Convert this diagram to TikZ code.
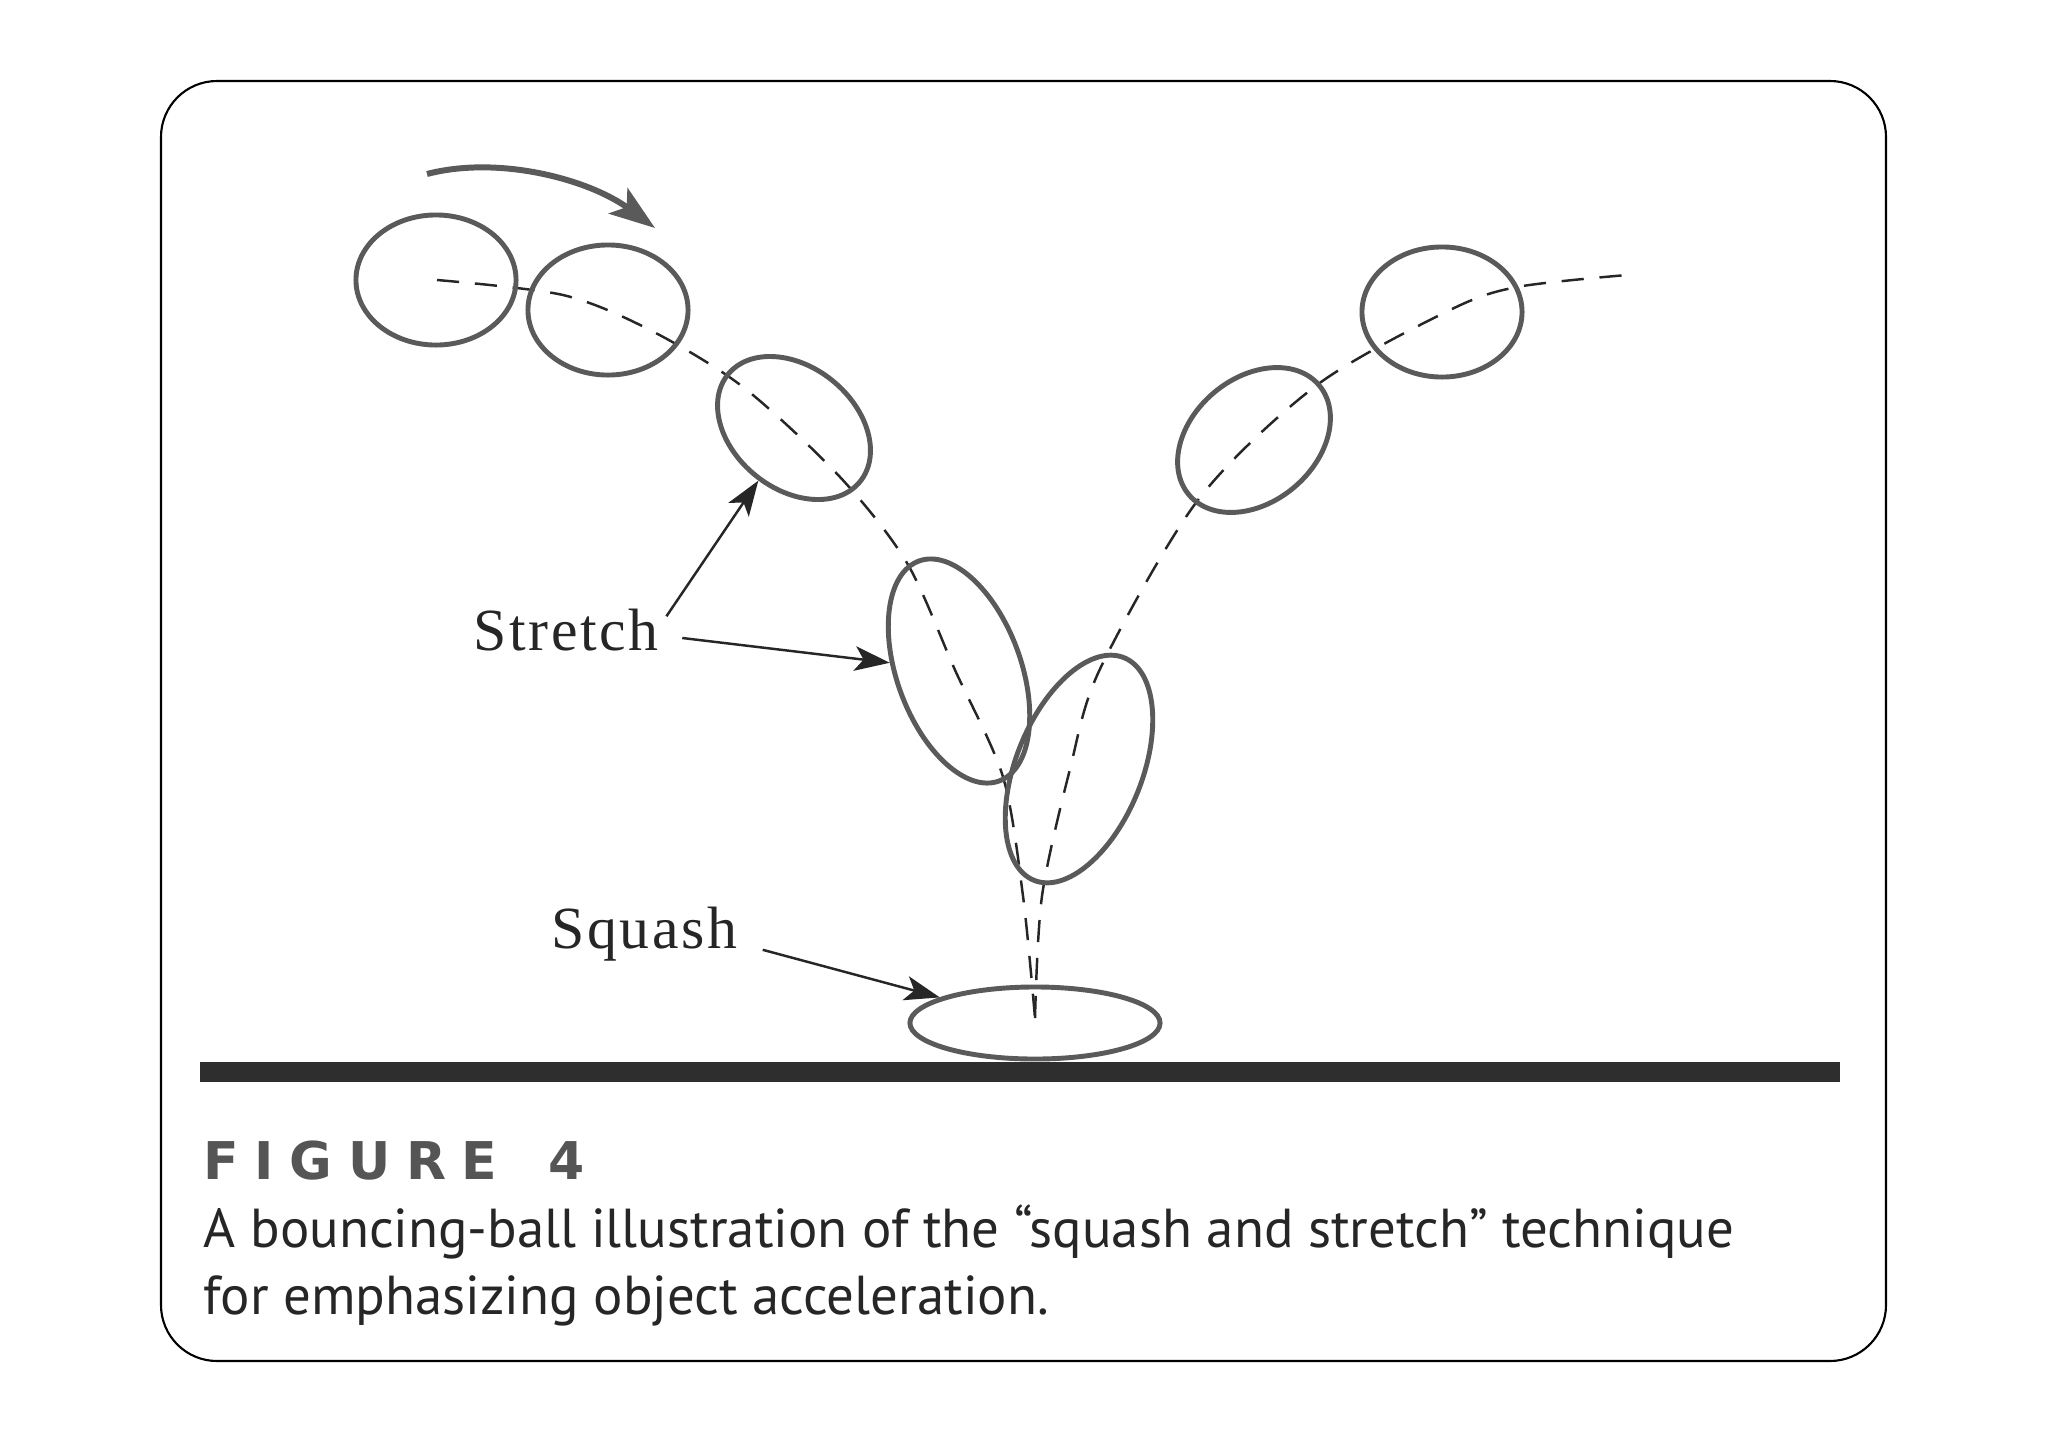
\documentclass[tikz,border=0pt]{standalone}
\usepackage{fontspec}
\setmainfont{Liberation Serif}
\newfontfamily\capfont{PT Sans}
\newfontfamily\figfont{DejaVu Sans}[LetterSpace=30]
\usetikzlibrary{arrows.meta,shapes.geometric}
\definecolor{ballgray}{HTML}{5A5A5A}
\definecolor{inkgray}{HTML}{262626}
\definecolor{figgray}{HTML}{555555}
\definecolor{suelo}{HTML}{2E2E2E}

\begin{document}
\begin{tikzpicture}[x=0.01cm, y=-0.01cm,
    ball/.style={draw=ballgray, line width=1.4pt, ellipse, inner sep=0pt},
    pointer/.style={draw=inkgray, line width=0.7pt, -{Stealth[length=10pt, width=7pt, inset=2.5pt]}},
    spin/.style={draw=ballgray, line width=1.7pt, -{Stealth[length=13pt, width=9pt, inset=3pt]}},
    trayecto/.style={draw=inkgray, line width=0.7pt, dash pattern=on 6.3pt off 4.5pt},
    rotulo/.style={font=\fontsize{17pt}{20pt}\selectfont\addfontfeature{LetterSpace=4.5}, text=inkgray, inner sep=1pt},
    pie/.style={anchor=base west, inner sep=0pt, text=inkgray, font=\capfont\fontsize{15.6pt}{19pt}\selectfont}]
    \fill[white] (0,0) rectangle (2048,1448);
    \useasboundingbox (0,0) rectangle (2048,1448);
    % Marco redondeado.
    \draw[line width=0.6pt, rounded corners=0.56cm] (161,81) rectangle (1886,1361);

    % Trayectoria de la pelota (bajada y subida).
    \draw[trayecto] plot[smooth, tension=0.5] coordinates {(437,280) (563,295) (650,330) (743,387) (840,477)
        (907,563) (955,670) (1003,777) (1023,896) (1035,1018)};
    \draw[trayecto] plot[smooth, tension=0.5] coordinates {(1035,1018) (1042,896) (1070,769) (1100,669)
        (1198,500) (1317,385) (1450,310) (1517,287) (1627,275)};

    % Posiciones de la pelota: nombre/x/y/ancho/alto/giro.
    \foreach \nombre/\cx/\cy/\ancho/\alto/\giro in {b1/436/280/1.60/1.30/0, b2/608/310/1.60/1.30/0,
        b3/794/428/1.70/1.22/-39, b4/959/671/2.34/1.24/-70, b5/1079/769/2.40/1.26/68,
        b6/1254/440/1.70/1.24/40, b7/1442/312/1.60/1.30/0, sq/1035/1023/2.50/0.72/0} {
        \node[ball, minimum width=\ancho cm, minimum height=\alto cm, rotate=\giro] (\nombre) at (\cx,\cy) {};
    }

    % Suelo.
    \fill[suelo] (200,1062) rectangle (1840,1082);

    % Flecha de giro.
    \coordinate (giro0) at (427,174);
    \coordinate (giro1) at (655,228);
    \draw[spin] (giro0) .. controls (500,155) and (590,180) .. (giro1);

    % Rotulos y flechas.
    \node[rotulo, anchor=base west] (stretch) at (469,650) {Stretch};
    \node[rotulo, anchor=base west] (squash) at (547,948) {Squash};
    \draw[pointer] ([xshift=1pt, yshift=-3.4pt]stretch.north east) -- (b3);
    \draw[pointer] ([xshift=5.5pt, yshift=-2.4pt]stretch.east) -- (b4);
    \draw[pointer] ([xshift=6pt, yshift=-4.6pt]squash.east) -- (sq);

    % Pie de figura.
    \node[anchor=base west, inner sep=0pt, text=figgray, font=\figfont\bfseries\fontsize{14.8pt}{17pt}\selectfont] (fig) at (203,1179) {FIGURE\hspace{5pt} 4};
    \node[pie] (cap1) at (203,1247) {A bouncing-ball illustration of the “squash and stretch” technique};
    \node[pie] (cap2) at (203,1314) {for emphasizing object acceleration.};
\end{tikzpicture}
\end{document}
